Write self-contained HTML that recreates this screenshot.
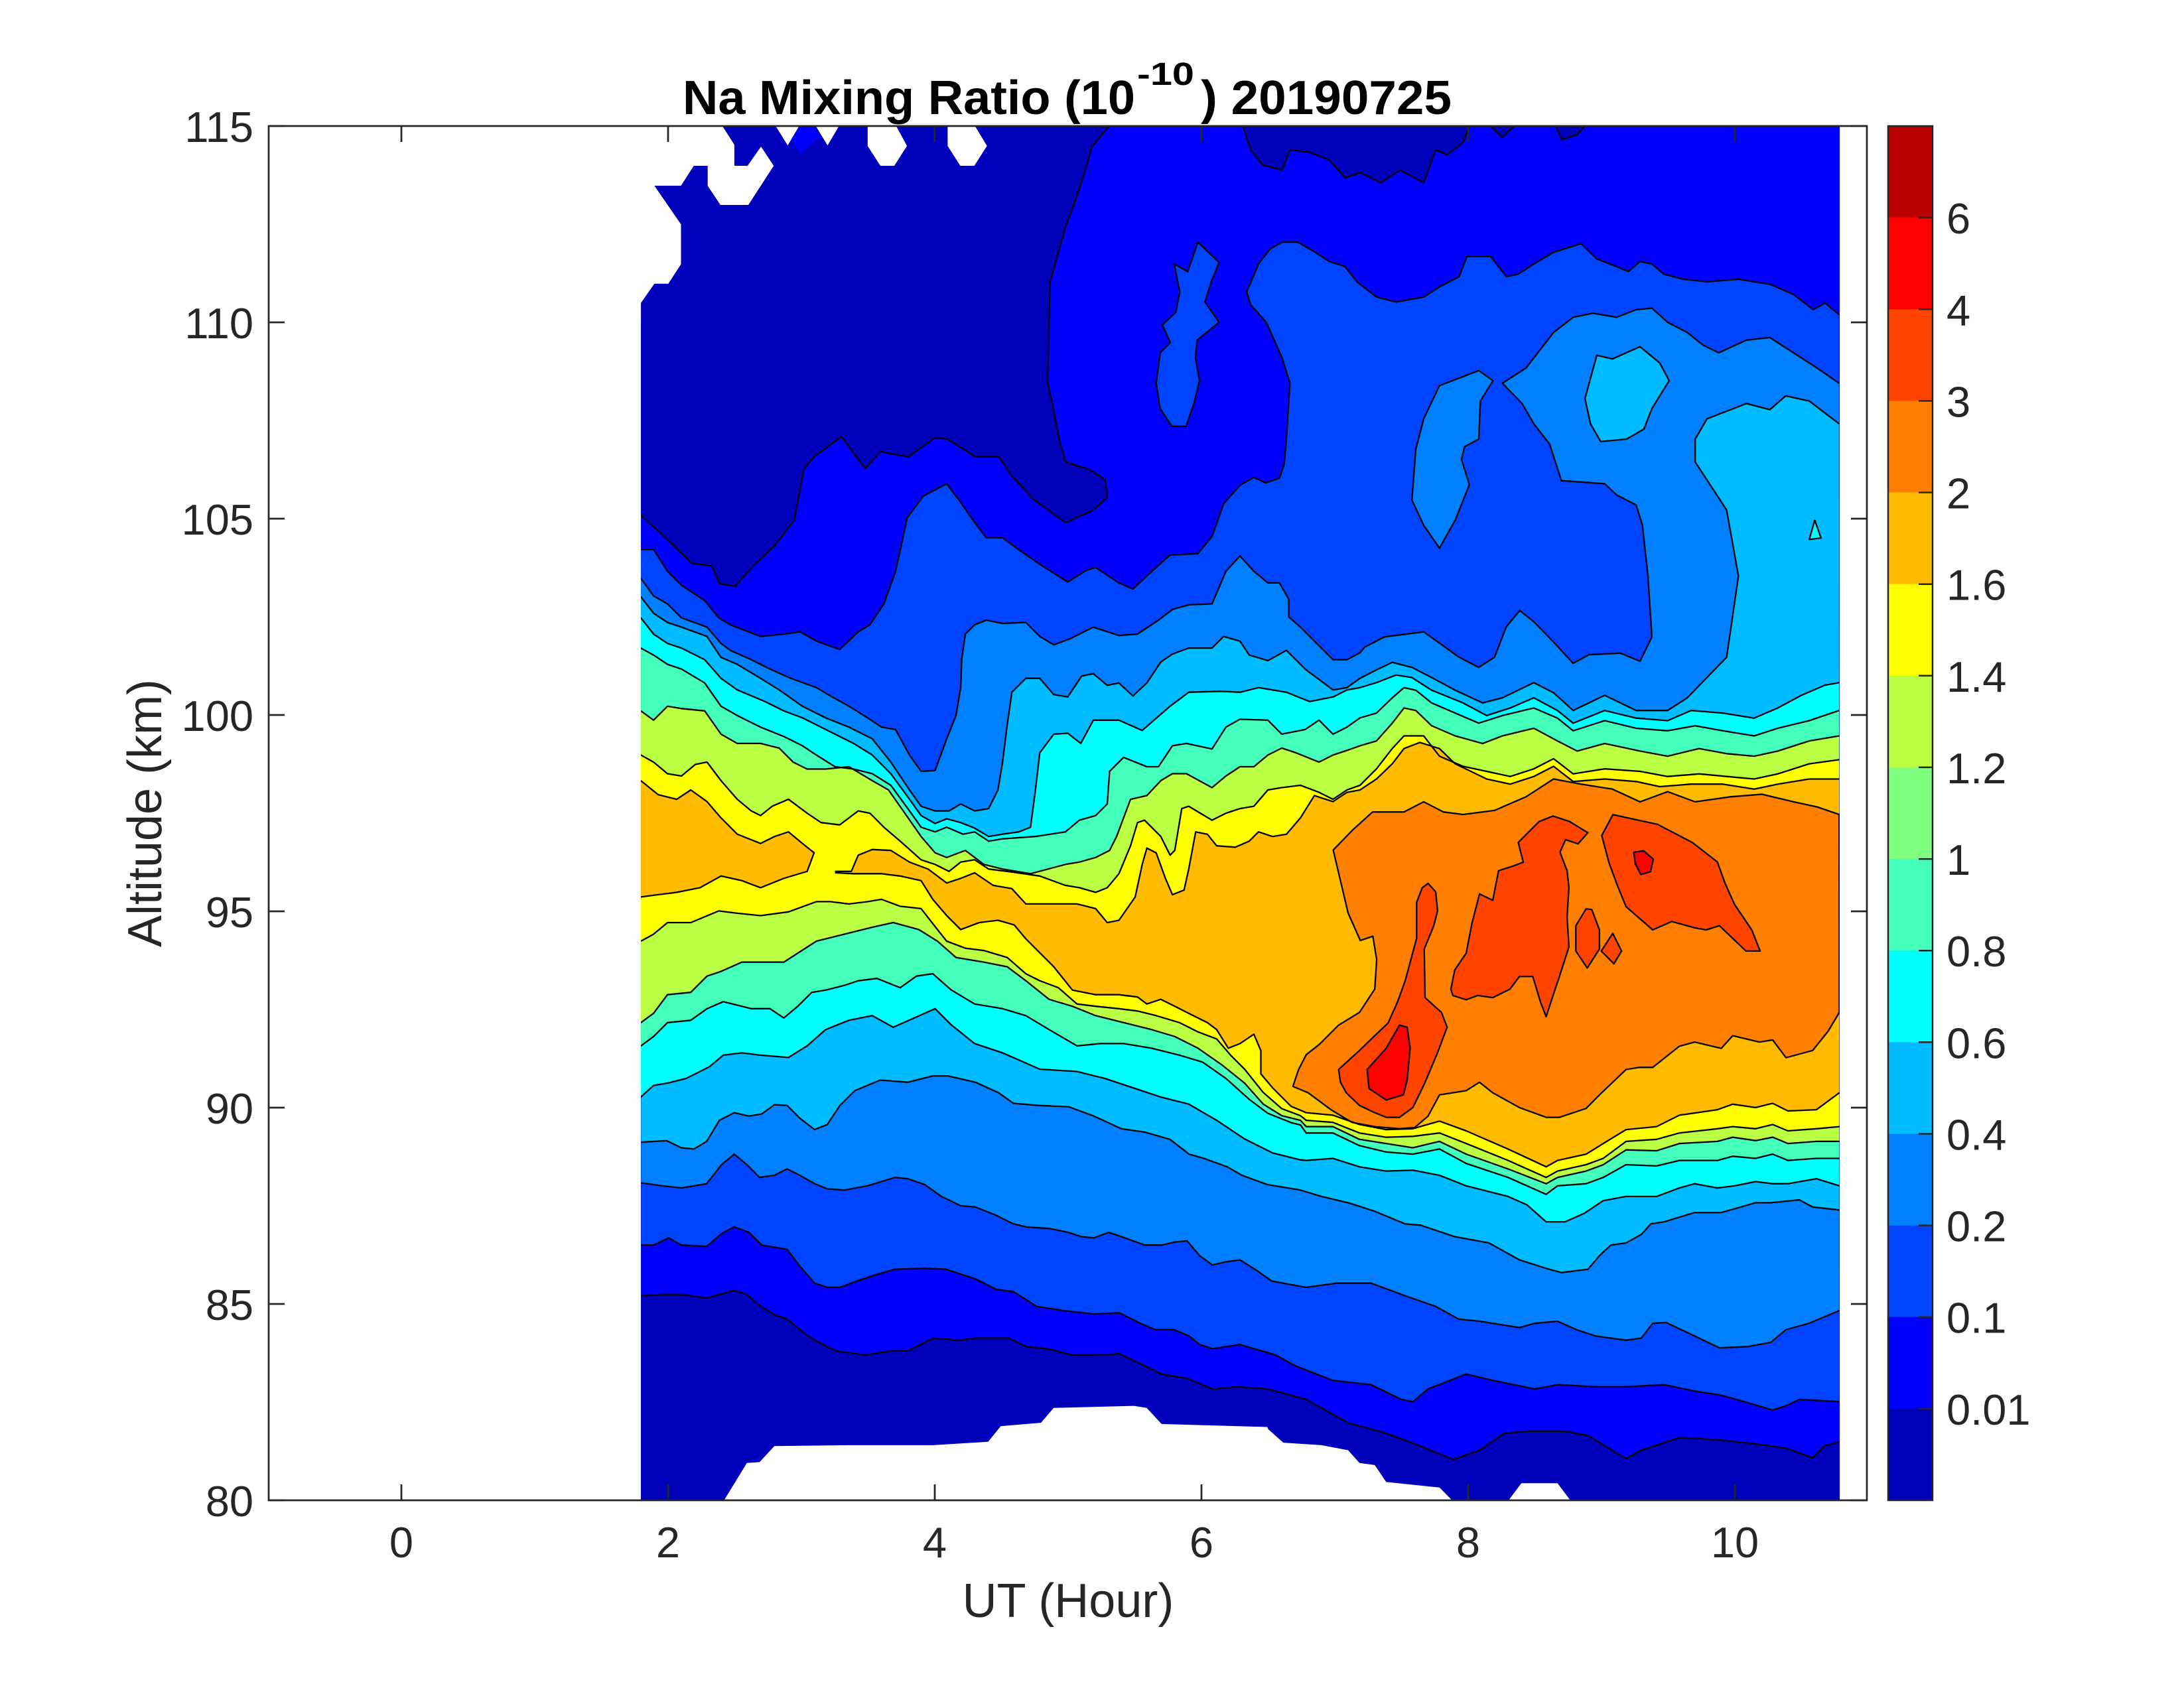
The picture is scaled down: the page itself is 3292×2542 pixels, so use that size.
<!DOCTYPE html>
<html><head><meta charset="utf-8">
<style>
html,body{margin:0;padding:0;background:#fff;}
svg{display:block;}
text{font-family:"Liberation Sans",Arial,sans-serif;}
</style></head>
<body>
<svg id="svg" xmlns="http://www.w3.org/2000/svg" width="3292" height="2542" viewBox="0 0 3292 2542">
<rect x="0" y="0" width="3292" height="2542" fill="#fff"/>
<rect x="966" y="190" width="1807" height="2072" fill="#0000BB"/>
<g id="fills"></g>
<g id="strokes" fill="none" stroke="#000" stroke-width="2.3" stroke-linejoin="round"></g>
<g id="whites" fill="#fff"></g>
<!-- axes -->
<g stroke="#262626" stroke-width="2.5" fill="none">
<rect x="405" y="190" width="2409" height="2072"/>
<path d="M605 2262v-24M806 2262v-24M1007 2262v-24M1208 2262v-24M1409 2262v-24M1610 2262v-24M1811 2262v-24M2012 2262v-24M2213 2262v-24M2414 2262v-24M2615 2262v-24" stroke-width="0"/>
<path d="M605 2262v-24M1007 2262v-24M1409 2262v-24M1811 2262v-24M2213 2262v-24M2615 2262v-24M605 190v24M1007 190v24M1409 190v24M1811 190v24M2213 190v24M2615 190v24"/>
<path d="M405 2262h24M405 1966h24M405 1670h24M405 1374h24M405 1078h24M405 782h24M405 486h24M405 190h24M2814 2262h-24M2814 1966h-24M2814 1670h-24M2814 1374h-24M2814 1078h-24M2814 782h-24M2814 486h-24M2814 190h-24"/>
</g>
<g font-size="65" fill="#262626" text-anchor="end">
<text x="382" y="2286">80</text>
<text x="382" y="1990">85</text>
<text x="382" y="1694">90</text>
<text x="382" y="1398">95</text>
<text x="382" y="1102">100</text>
<text x="382" y="806">105</text>
<text x="382" y="510">110</text>
<text x="382" y="214">115</text>
</g>
<g font-size="65" fill="#262626" text-anchor="middle">
<text x="605" y="2348">0</text>
<text x="1007" y="2348">2</text>
<text x="1409" y="2348">4</text>
<text x="1811" y="2348">6</text>
<text x="2213" y="2348">8</text>
<text x="2615" y="2348">10</text>
</g>
<text x="1610" y="2438" font-size="72" fill="#262626" text-anchor="middle">UT (Hour)</text>
<text transform="translate(243,1226) rotate(-90)" font-size="72" fill="#262626" text-anchor="middle">Altitude (km)</text>
<text x="1029" y="172" font-size="72" font-weight="bold" fill="#000" textLength="682" lengthAdjust="spacingAndGlyphs">Na Mixing Ratio (10</text>
<text x="1714" y="128" font-size="48" font-weight="bold" fill="#000" textLength="86" lengthAdjust="spacingAndGlyphs">-10</text>
<text x="1810" y="172" font-size="72" font-weight="bold" fill="#000" textLength="378" lengthAdjust="spacingAndGlyphs">) 20190725</text>
<!-- colorbar -->
<g id="cbar"></g>
</svg>
<script>
(function(){
var NS="http://www.w3.org/2000/svg";
var T={
 z9:function(x,y){return [950+x*0.7015,700+y*0.7015];},
 z7:function(x,y){return [960+x*1.186,180+y*0.765];},
 z5:function(x,y){return [960+x*0.6378,1300+y*0.6378];},
 z6:function(x,y){return [1900+x*0.574,1300+y*0.6378];},
 z8:function(x,y){return [950+x/2.613,185+y/3];},
 d:function(x,y){return [x*2.0995,y*2.0995];}
};
function P(spec,clamp){var o=[];for(var s=0;s<spec.length;s++){var k=spec[s][0],a=spec[s][1];for(var i=0;i<a.length;i+=2){var p=T[k](a[i],a[i+1]);if(clamp!==false){p[0]=Math.max(966,Math.min(2773,p[0]));p[1]=Math.max(190,Math.min(2262,p[1]));}o.push(p);}}return o;}
function S(pts){return pts.map(function(p){return p[0].toFixed(1)+','+p[1].toFixed(1);}).join(' ');}
var fills=document.getElementById('fills'),strokes=document.getElementById('strokes'),whites=document.getElementById('whites');
function poly(par,pts,fill){var e=document.createElementNS(NS,'polygon');e.setAttribute('points',S(pts));if(fill)e.setAttribute('fill',fill);par.appendChild(e);return e;}
function line(pts){var e=document.createElementNS(NS,'polyline');e.setAttribute('points',S(pts));strokes.appendChild(e);}

var U1=[['z7',[5,780,40,830,70,875,95,880,105,915,125,920,145,885,175,840,200,790,212,690,225,665,260,625,290,688,310,655,345,665,378,628,395,630,430,665,460,665,475,700,505,750,545,795,580,770,598,745,595,710,575,690,545,675,538,640,528,560,522,520,525,320,545,210,555,170,570,100,578,55,600,13,770,13,780,60,795,90,820,100,830,60,855,65,880,80,900,115,920,105,945,125,970,100,1000,125,1015,60,1030,70,1050,45,1058,13,1085,13,1100,35,1115,13,1168,13,1175,40,1195,30,1205,13,1528,13]]];
var L1=[['z5',[10,1025,60,1022,105,1022,165,1030,230,1012,260,1022,290,1048,325,1070,355,1080,385,1105,420,1130,470,1155,540,1165,600,1155,640,1155,700,1125,760,1130,800,1125,880,1125,920,1145,970,1150,1030,1165,1085,1165,1140,1162,1200,1190,1240,1210,1300,1220,1360,1245,1420,1240,1490,1245]],['z6',[60,1255,120,1270,230,1325,330,1350,420,1380,505,1412,575,1390,640,1350,700,1345,800,1345,860,1355,960,1410,1000,1390,1100,1360,1200,1365,1300,1375,1380,1385,1450,1408,1480,1380,1520,1370]]];
var U2=[['z9',[22,183,50,183,80,230,110,260,160,293,190,330,215,345,280,370,330,365,365,360,400,380,450,398,490,360,515,345,545,300,570,230,580,185,595,115,630,68,680,42,705,75,740,125,765,158,800,158,830,180,880,215,940,253,980,228,1000,222,1050,255,1080,268,1110,240,1160,195,1220,192,1250,155,1275,85,1310,45,1340,28,1365,40,1395,30,1405,0]],['z7',[825,640,830,520,820,470,800,400,780,365,775,340,790,285,805,255,820,242,840,242,860,260,880,280,900,290,915,320,940,350,965,360,1000,350,1020,330,1045,310,1055,270,1085,270,1105,310,1120,305,1140,285,1165,262,1200,245,1220,275,1245,290,1260,300,1275,280,1290,285,1305,305,1330,315,1360,320,1400,315,1440,325,1470,345,1495,375,1510,362,1528,385]]];
var L2=[['z5',[10,905,40,905,75,888,105,905,165,908,200,878,230,862,265,875,295,905,355,915,385,955,420,995,450,1005,480,1005,520,990,565,975,610,962,680,960,730,962,800,985,850,1010,890,1015,945,1050,1010,1060,1080,1068,1140,1065,1190,1090,1225,1105,1270,1105,1305,1120,1330,1140,1360,1150,1425,1140]],['z6',[40,1165,90,1190,190,1225,290,1235,370,1270,400,1275,440,1245,540,1210,610,1225,720,1245,780,1235,880,1240,960,1240,1060,1235,1140,1250,1210,1260,1270,1275,1345,1295,1380,1285,1415,1270,1520,1275]]];
var U3=[['z9',[22,245,50,283,80,300,110,330,165,350,195,385,215,400,260,420,300,440,345,460,400,480,425,495,470,520,510,545,540,565,570,570,600,625,625,660,655,658,680,590,700,540,710,480,712,420,720,365,740,345,765,335,800,342,850,340,880,370,910,388,945,375,995,350,1050,368,1090,365,1135,335,1165,312,1200,302,1250,300,1280,230,1310,197,1340,230,1370,255,1395,255,1415,290,1415,328,1440,350,1475,385,1510,420,1540,420,1568,405]],['z7',[925,1040,950,1020,1000,1010,1045,1060,1070,1080,1090,1060,1105,1000,1122,968,1140,990,1165,1030,1190,1072,1210,1055,1250,1052,1275,1068,1290,1020,1285,900,1278,800,1270,760,1245,740,1230,718,1175,712,1160,640,1140,600,1125,560,1100,520,1130,490,1165,420,1190,390,1215,382,1245,390,1270,375,1290,372,1310,400,1335,420,1355,445,1375,460,1410,435,1440,430,1465,455,1500,490,1528,520]]];
var L3=[['z5',[10,758,60,765,105,770,165,760,200,715,230,690,260,715,290,745,325,740,355,725,385,740,420,760,450,772,490,775,545,765,610,745,640,748,680,762,720,790,765,812,800,815,850,835,890,855,920,862,975,866,1020,875,1050,885,1080,888,1115,875,1145,885,1200,905,1240,905,1270,898,1300,895,1330,930,1360,952,1390,945,1425,940,1465,965,1500,990]],['z6',[120,1005,200,995,290,995,380,1025,460,1050,520,1080,575,1085,680,1100,720,1090,780,1085,830,1105,880,1120,960,1130,1000,1125,1030,1090,1065,1088,1140,1120,1205,1148,1280,1145,1340,1135,1380,1105,1440,1090,1520,1060]]];
var U4=[['z9',[22,285,50,320,80,340,110,350,165,370,195,415,230,430,280,460,320,485,370,520,420,545,470,565,520,590,560,640,600,700,625,735,655,745,685,745,710,730,740,745,770,740,790,700,800,640,810,560,820,490,850,460,880,460,910,495,940,500,970,455,995,450,1025,475,1050,470,1080,498,1110,470,1140,425,1165,408,1200,395,1250,395,1275,370,1310,380,1330,410,1370,422,1410,400,1450,440,1510,485,1540,480,1568,460]],['z7',[940,1085,960,1070,985,1080,1010,1100,1040,1125,1075,1150,1100,1140,1140,1110,1165,1130,1190,1165,1230,1135,1270,1165,1310,1165,1335,1140,1360,1100,1385,1060,1400,900,1385,770,1345,675,1345,630,1360,590,1410,560,1440,572,1460,545,1490,555,1528,600]]];
var L4=[['z5',[10,662,70,658,105,675,135,678,165,660,195,610,230,592,265,600,295,595,325,573,355,575,385,605,420,632,450,620,480,575,515,540,575,515,640,520,700,505,735,505,800,520,855,545,890,570,950,575,1020,578,1080,600,1145,630,1200,638,1260,655,1305,690,1340,700,1395,720,1430,740,1490,762]],['z6',[105,775,160,790,230,805,300,825,380,855,420,858,510,885,600,900,680,940,750,960,790,970,860,962,890,930,920,905,960,900,1000,880,1025,855,1060,850,1140,828,1210,828,1250,818,1300,805,1340,805,1415,798,1450,815,1520,822]]];
var U5=[['z9',[22,330,50,365,80,385,110,395,160,420,195,460,230,485,290,510,330,530,370,545,420,570,480,600,520,625,560,665,600,720,625,755,655,772,680,762,710,770,740,782,770,800,800,795,835,790,860,780,870,705,880,620,910,580,940,578,968,600,995,550,1050,550,1100,572,1160,520,1200,490,1270,488,1310,490,1350,480,1410,490,1460,510,1510,500,1540,485,1568,480]],['z7',[940,1110,965,1095,985,1100,1010,1125,1050,1150,1080,1175,1110,1160,1140,1140,1170,1165,1190,1190,1230,1165,1270,1180,1310,1185,1340,1165,1380,1170,1420,1180,1450,1160,1480,1135,1510,1115,1528,1110]]];
var L5=[['z9',[22,1360,50,1335,80,1330,120,1320,170,1295,200,1270,240,1265,280,1270,340,1275,380,1250,420,1215,470,1195,520,1185,565,1210,610,1190,655,1170,690,1205,740,1245,800,1265,880,1300,960,1305,1020,1320,1080,1340,1140,1360,1200,1375,1260,1410,1320,1450,1380,1480,1440,1495]],['z6',[120,705,190,700,260,720,330,730,400,728,470,740,540,765,650,790,700,810,750,850,800,850,850,830,900,800,960,790,1040,790,1100,770,1140,760,1200,770,1245,765,1300,755,1345,760,1385,760,1460,748,1520,765]]];
var U6=[['z9',[22,395,50,410,80,430,110,440,160,470,195,520,230,540,280,565,330,585,370,605,400,625,440,650,480,655,520,665,560,690,600,745,625,780,655,790,680,780,715,795,740,790,770,810,800,805,870,800,935,790,965,765,1000,755,1025,730,1030,660,1060,630,1110,650,1135,650,1165,605,1195,600,1250,612,1280,565,1310,548,1370,550,1400,580,1450,570,1480,550,1510,580,1540,565,1568,545]],['z7',[940,1170,960,1140,975,1120,990,1125,1010,1150,1040,1170,1070,1190,1100,1175,1140,1160,1170,1180,1190,1205,1230,1185,1270,1200,1310,1205,1345,1195,1380,1205,1420,1215,1450,1200,1490,1185,1528,1165]]];
var L6=[['z9',[22,1250,50,1230,80,1200,130,1195,165,1170,200,1155,260,1170,300,1170,330,1190,360,1165,390,1135,420,1130,460,1120,490,1110,530,1105,580,1125,615,1100,650,1095,690,1130,740,1160,800,1170,850,1185,900,1215,960,1250,1010,1245,1060,1245,1120,1255,1180,1270,1230,1285,1280,1320,1330,1365,1370,1395,1420,1415,1440,1420]],['z6',[120,640,190,640,260,670,330,685,400,690,470,678,540,712,650,745,750,785,780,765,855,760,900,745,960,715,1040,718,1100,705,1200,705,1240,695,1300,700,1345,690,1385,705,1460,700,1520,700]]];
var U7=[['z9',[22,530,50,550,80,520,110,525,160,530,195,580,230,600,280,600,320,610,350,640,380,655,420,655,470,650,520,680,555,700,590,750,625,800,655,835,680,845,720,830,760,860,800,870,860,880,935,860,965,855,1000,845,1030,830,1045,800,1075,720,1110,712,1140,680,1165,665,1195,665,1250,695,1280,670,1310,650,1340,650,1370,625,1400,610,1430,620,1480,640,1510,625,1540,615,1568,605]],['z7',[940,1225,960,1190,975,1160,990,1165,1010,1195,1040,1215,1075,1230,1100,1215,1140,1200,1170,1225,1195,1245,1230,1230,1275,1245,1310,1255,1350,1240,1385,1250,1420,1255,1450,1245,1490,1225,1528,1215]]];
var L7=[['z9',[22,1200,50,1180,80,1140,130,1135,165,1100,195,1090,240,1070,330,1070,400,1025,460,1010,520,995,565,985,620,1000,660,1025,700,1060,760,1070,810,1080,850,1110,900,1150,950,1165,1000,1185,1060,1200,1120,1215,1170,1230,1220,1255,1270,1290,1320,1330,1360,1375,1400,1400,1440,1410]],['z6',[120,625,190,625,260,655,330,665,400,675,470,660,540,690,650,725,750,760,780,745,855,730,900,715,960,680,1040,682,1100,665,1200,660,1240,650,1300,658,1345,650,1385,665,1460,660,1520,660]]];
var U8=[['z9',[22,625,50,640,80,665,110,670,140,645,165,640,195,680,230,720,260,745,280,755,305,735,340,720,380,750,410,770,450,775,490,745,515,750,545,780,580,810,625,850,655,860,685,875,710,855,740,850,770,870,810,875,880,885,935,905,965,910,1000,920,1025,910,1050,880,1075,820,1090,770,1105,765,1140,800,1160,840,1170,830,1185,740,1200,735,1250,765,1280,750,1310,740,1340,735,1370,700,1400,695,1440,690,1480,705,1510,720,1540,700,1568,690]],['z7',[940,1280,960,1240,975,1215,1000,1215,1020,1255,1050,1275,1080,1285,1110,1295,1140,1280,1165,1260,1190,1290,1230,1280,1275,1285,1310,1295,1350,1290,1385,1295,1420,1300,1450,1290,1490,1270,1528,1262]]];
var L8=[['z9',[22,1025,50,1010,80,985,130,985,190,960,230,965,280,970,340,962,400,940,430,940,470,945,510,940,540,935,580,950,625,955,660,1000,680,1025,720,1040,760,1045,810,1060,850,1095,880,1110,920,1125,960,1160,1000,1165,1050,1170,1090,1175,1130,1185,1180,1200,1220,1220,1260,1235,1290,1270,1320,1300,1360,1350,1400,1385,1440,1400]],['z6',[120,610,190,615,260,640,330,650,400,648,470,640,540,665,650,705,750,745,780,730,855,715,900,700,960,660,1040,655,1100,640,1200,630,1240,625,1300,630,1345,620,1385,635,1460,630,1520,625]]];
var U9=[['z9',[440,875,475,875,490,840,520,828,560,830,600,855,640,870,680,900,710,890,740,878,780,905,820,912,850,945,900,945,960,945,1000,955,1025,985,1050,980,1085,930,1100,860,1110,825,1130,835,1150,890,1165,925,1190,915,1200,870,1215,790,1240,795,1260,820,1300,823,1330,810,1350,790,1380,800,1410,795,1440,760,1470,712,1510,725,1540,705,1568,700]],['z7',[940,1300,960,1270,975,1240,995,1228,1020,1240,1040,1270,1060,1285,1080,1300,1110,1310,1140,1295,1165,1275,1190,1305,1230,1300,1270,1305,1300,1315,1340,1310,1380,1310,1420,1320,1450,1310,1490,1300,1528,1300]]];
var L9=[['z9',[440,878,480,880,540,880,580,885,625,895,650,935,680,970,710,1000,750,985,790,980,825,990,850,1020,880,1050,910,1080,950,1130,1000,1140,1050,1140,1090,1145,1110,1160,1140,1150,1170,1165,1200,1180,1240,1200,1260,1215,1285,1255,1310,1245,1340,1225,1355,1260,1355,1310,1380,1340,1420,1380]],['z6',[120,592,190,598,260,620,330,632,400,630,470,612,540,635,650,678,750,720,780,705,855,690,900,665,960,632,1040,625,1100,598,1200,585,1240,572,1300,580,1345,570,1385,588,1460,585,1520,545]]];
var LOBE9=[['z9',[22,680,60,710,100,720,130,700,165,725,195,760,230,795,280,815,310,800,340,790,370,815,395,835,380,875,330,890,280,910,240,895,195,885,150,910,100,920,60,925,22,930]]];

var bands=[['#0000FF',U1,L1],['#0044FF',U2,L2],['#0080FF',U3,L3],['#00BBFF',U4,L4],['#00FFFF',U5,L5],['#44FFBB',U6,L6],['#BBFF44',U7,L7],['#FFFF00',U8,L8]];
var islands={
 '#0044FF':[[['z7',[713,242,740,282,730,320,722,360,740,400,712,435,710,470,715,515,708,560,698,605,680,605,665,570,660,520,665,460,678,440,668,405,685,380,690,340,683,285,700,300]]]],
 '#0080FF':[[['z7',[1020,525,1070,495,1088,515,1072,555,1070,630,1052,645,1048,670,1058,720,1040,790,1020,845,1000,800,985,750,990,650,1000,590]]]],
 '#00BBFF':[[['z7',[1220,465,1240,472,1275,448,1300,480,1312,515,1290,570,1280,610,1258,630,1225,635,1212,600,1205,550]]]],
 '#00FFFF':[[['z7',[1490,828,1497,790,1505,825]]]]
};
var strokeLines=[],strokePolys=[];
bands.forEach(function(b){
 var up=P(b[1]),lo=P(b[2]);
 poly(fills,up.concat(lo.slice().reverse()),b[0]);
 strokeLines.push(up,lo);
 (islands[b[0]]||[]).forEach(function(s){var p=P(s);poly(fills,p,b[0]);strokePolys.push(p);});
});
// c9
var lobe=P(LOBE9);poly(fills,lobe,'#FFBB00');strokeLines.push(lobe.slice(0,lobe.length));
var u9=P(U9),l9=P(L9);poly(fills,u9.concat(l9.slice().reverse()),'#FFBB00');strokeLines.push(u9,l9);
// c10
var c10=P([['z6',[85,530,100,490,120,455,155,430,205,385,260,355,300,300,305,230,295,175,262,185,230,120]],['z7',[885,1440,910,1400,935,1365,975,1365,1000,1345,1025,1365,1050,1370,1090,1362,1130,1335,1165,1300,1200,1310,1240,1320,1275,1345,1310,1325,1345,1345,1390,1335,1430,1330,1470,1345,1500,1355,1528,1370]],['z6',[1520,355,1490,400,1450,445,1380,462,1345,420,1310,425,1240,410,1210,440,1140,425,1100,435,1030,485,995,485,960,490,890,550,855,582,785,603,750,603,680,580,610,545,575,520,540,540,470,550,440,600,405,627,365,630,300,625,240,615,185,585,125,545]]]);
poly(fills,c10,'#FF8000');strokePolys.push(c10);
var c11=[
 [['z6',[205,490,260,445,300,410,335,380,360,330,380,280,410,180,410,95,425,60,440,50,460,70,465,115,455,150,430,205,432,320,475,355,490,390,465,450,430,525,400,580,365,603,330,603,295,590,260,575,225,545,210,520]]],
 [['z6',[500,300,510,255,540,215,555,145,575,75,610,90,625,20,660,10,690,0]],['d',[1090,605,1105,590,1115,586,1127,590,1140,598,1133,606,1124,603,1120,612]],['z6',[805,20,810,60,805,130,810,200,785,270,770,310,750,365,735,330,715,270,680,270,655,300,610,320,570,315,540,325,505,315]]],
 [['d',[1155,619,1150,600,1158,585,1190,592,1215,605,1233,619]],['z6',[1220,50,1245,100,1290,160,1312,210,1275,210,1205,150,1170,160,1140,155,1080,140,1030,160,960,105,935,50]]],
 [['z6',[855,110,870,112,890,160,890,205,858,250,828,210,828,150]]],
 [['z6',[925,168,948,210,928,240,895,210]]]
];
c11.forEach(function(s){var p=P(s);poly(fills,p,'#FF4400');strokePolys.push(p);});
var c12=[[['z6',[280,490,330,440,365,385,385,390,393,440,385,515,375,550,330,562,285,535]]],[['d',[1173,612,1180,611,1187,617,1185,626,1178,628,1174,620]]]];
c12.forEach(function(s){var p=P(s);poly(fills,p,'#FF0000');strokePolys.push(p);});
// small c1 diamond near top
var dm=P([['z8',[635,80,668,20,728,20,745,65,670,140]]]);poly(fills,dm,'#0000FF');
strokeLines.forEach(function(l){line(l);});
strokePolys.forEach(function(p){poly(strokes,p,null);});
// whites
var W=[
 [['z8',[0,10,360,10,410,100,410,195,462,195,515,108,565,195,465,372,355,372,305,285,305,195,250,195,200,285,95,285,200,460,200,640,150,728,95,728,42,815,42,905,0,905]]],
 [['z8',[570,10,668,10,620,103]]],
 [['z8',[728,10,825,10,777,103]]],
 [['z8',[935,10,1045,10,1090,105,1040,195,985,195,935,105]]],
 [['z8',[1250,10,1355,10,1405,105,1355,195,1300,195,1250,105]]],
 [['z5',[205,1510,260,1420,290,1418,325,1380,500,1378,700,1378,830,1370,860,1333,955,1325,985,1290,1175,1285,1205,1290,1240,1328,1490,1335]],['z6',[20,1340,60,1372,160,1378,230,1390,260,1420,300,1425,330,1465,470,1478,505,1510]]],
 [['z6',[650,1510,685,1468,780,1468,815,1510]]]
];
W.forEach(function(s){var p=P(s,false);poly(whites,p,'#fff');});
var ws=document.createElementNS(NS,'rect');ws.setAttribute('x','405');ws.setAttribute('y','180');ws.setAttribute('width','561');ws.setAttribute('height','2090');ws.setAttribute('fill','#fff');whites.appendChild(ws);
var ws2=document.createElementNS(NS,'rect');ws2.setAttribute('x','2773');ws2.setAttribute('y','180');ws2.setAttribute('width','41');ws2.setAttribute('height','2090');ws2.setAttribute('fill','#fff');whites.appendChild(ws2);
// colorbar
var cb=document.getElementById('cbar');
var cols=['#BB0000','#FF0000','#FF4400','#FF8000','#FFBB00','#FFFF00','#BBFF44','#80FF80','#44FFBB','#00FFFF','#00BBFF','#0080FF','#0044FF','#0000FF','#0000BB'];
var labs=['6','4','3','2','1.6','1.4','1.2','1','0.8','0.6','0.4','0.2','0.1','0.01'];
var h=2072/15,html='';
for(var i=0;i<15;i++){html+='<rect x="2846" y="'+(190+i*h).toFixed(1)+'" width="67" height="'+(h+0.8).toFixed(1)+'" fill="'+cols[i]+'"/>';}
html+='<rect x="2846" y="190" width="67" height="2072" fill="none" stroke="#262626" stroke-width="2.5"/>';
for(var j=1;j<15;j++){var y=190+j*h;html+='<line x1="2892" x2="2913" y1="'+y.toFixed(1)+'" y2="'+y.toFixed(1)+'" stroke="#262626" stroke-width="2.5"/>';html+='<text x="2934" y="'+(y+24).toFixed(1)+'" font-size="65" fill="#262626">'+labs[j-1]+'</text>';}
cb.innerHTML=html;
// re-draw axis box on top
var svg=document.getElementById('svg');
var ax=document.createElementNS(NS,'rect');ax.setAttribute('x','405');ax.setAttribute('y','190');ax.setAttribute('width','2409');ax.setAttribute('height','2072');ax.setAttribute('fill','none');ax.setAttribute('stroke','#262626');ax.setAttribute('stroke-width','2.5');svg.appendChild(ax);
var tk=document.createElementNS(NS,'path');tk.setAttribute('d','M605 2262v-24M1007 2262v-24M1409 2262v-24M1811 2262v-24M2213 2262v-24M2615 2262v-24M605 190v24M1007 190v24M1409 190v24M1811 190v24M2213 190v24M2615 190v24M405 2262h24M405 1966h24M405 1670h24M405 1374h24M405 1078h24M405 782h24M405 486h24M405 190h24M2814 2262h-24M2814 1966h-24M2814 1670h-24M2814 1374h-24M2814 1078h-24M2814 782h-24M2814 486h-24M2814 190h-24');tk.setAttribute('stroke','#262626');tk.setAttribute('stroke-width','2.5');svg.appendChild(tk);
})();
</script>
</body></html>
